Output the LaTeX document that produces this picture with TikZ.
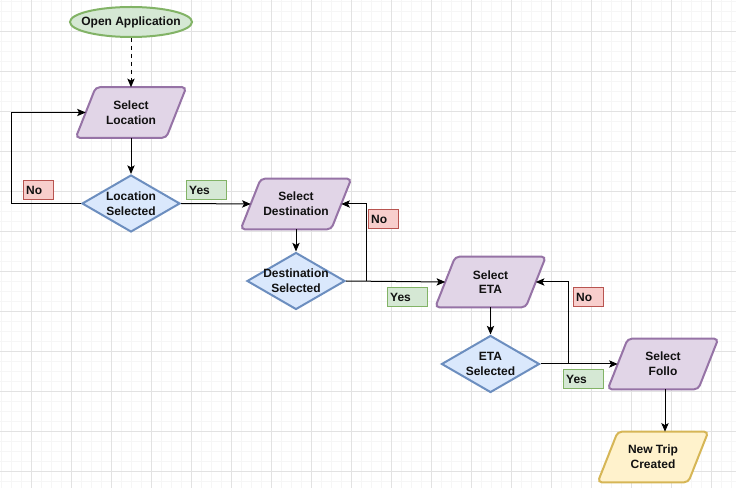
\documentclass[tikz,border=0pt]{standalone}
\usepackage{fontspec}
\setmainfont{Liberation Sans}
\usetikzlibrary{shapes.geometric,arrows.meta}
\definecolor{gmin}{HTML}{F6F6F6}
\definecolor{gmaj}{HTML}{E2E2E2}
\definecolor{grnF}{HTML}{D5E8D4}
\definecolor{grnS}{HTML}{82B366}
\definecolor{purF}{HTML}{E1D5E7}
\definecolor{purS}{HTML}{9673A6}
\definecolor{bluF}{HTML}{DAE8FC}
\definecolor{bluS}{HTML}{6C8EBF}
\definecolor{redF}{HTML}{F8CECC}
\definecolor{redS}{HTML}{B85450}
\definecolor{yelF}{HTML}{FFF2CC}
\definecolor{yelS}{HTML}{D6B656}
\definecolor{txt}{HTML}{111111}
\pgfdeclarelayer{grid}
\pgfdeclarelayer{bg}
\pgfsetlayers{grid,bg,main}
\newcommand{\paraoutline}[3]{%
  \begin{pgfonlayer}{bg}
  \draw[fill=#2,draw=#3,line width=1.5pt,rounded corners=3pt]
    ([xshift=15pt]#1.north west) -- (#1.north east) -- ([xshift=-15pt]#1.south east) -- (#1.south west) -- cycle;
  \end{pgfonlayer}}
\begin{document}
\begin{tikzpicture}[x=0.75pt,y=-0.75pt,
  every node/.style={font=\fontsize{9}{11}\selectfont\bfseries, text=txt},
  para/.style={rectangle, minimum width=82.5pt, minimum height=37.5pt, inner sep=0pt, align=center},
  dia/.style={diamond, fill=bluF, draw=bluS, line width=1.5pt, minimum width=73.5pt, minimum height=42.75pt, inner sep=0pt},
  dtext/.style={align=center, inner sep=0pt},
  term/.style={ellipse, fill=grnF, draw=grnS, line width=1.5pt, minimum width=91.5pt, minimum height=22.5pt, inner sep=0pt},
  nobox/.style={fill=redF, draw=redS, line width=0.75pt, minimum height=14.25pt, inner xsep=2pt, inner ysep=0pt, align=left, anchor=west, text width=18.5pt},
  yesbox/.style={fill=grnF, draw=grnS, line width=0.75pt, minimum height=14.25pt, inner xsep=2pt, inner ysep=0pt, align=left, anchor=west, text width=26pt},
  arr/.style={draw=black, line width=0.75pt, -{Stealth[length=6.5pt,width=5.5pt,inset=1.5pt]}}]
\useasboundingbox (0,0) rectangle (736,488);
\begin{pgfonlayer}{grid}
\fill[white] (0,0) rectangle (736,488);
\foreach \i in {0,...,73} {\draw[gmin,line width=0.5pt] (1.5+10*\i,0) -- (1.5+10*\i,488);}
\foreach \i in {0,...,48} {\draw[gmin,line width=0.5pt] (0,1.7+10*\i) -- (736,1.7+10*\i);}
\foreach \i in {0,...,18} {\draw[gmaj,line width=0.6pt] (31.5+40*\i,0) -- (31.5+40*\i,488);}
\foreach \i in {0,...,11} {\draw[gmaj,line width=0.6pt] (0,31.7+40*\i) -- (736,31.7+40*\i);}
\end{pgfonlayer}

\node[term, label={[dtext]center:Open Application}] (app) at (131,22) {};
\node[para] (loc) at (131,112.5) {Select\\Location};
\paraoutline{loc}{purF}{purS}
\node[dia, label={[dtext]center:Location\\Selected}] (locd) at (131,203.5) {};
\node[para] (dest) at (296,204) {Select\\Destination};
\paraoutline{dest}{purF}{purS}
\node[dia, label={[dtext]center:Destination\\Selected}] (destd) at (296,281) {};
\node[para] (eta) at (490.5,282) {Select\\ETA};
\paraoutline{eta}{purF}{purS}
\node[dia, label={[dtext]center:ETA\\Selected}] (etad) at (490.5,364) {};
\node[para] (follo) at (663,364) {Select\\Follo};
\paraoutline{follo}{purF}{purS}
\node[para] (trip) at (653,457) {New Trip\\Created};
\paraoutline{trip}{yelF}{yelS}

\coordinate (nl) at (11,0);
\coordinate (b1) at (366,0);
\coordinate (b2) at (568,0);

\draw[arr,dashed] (app.south) -- (app.south |- loc.north);
\draw[arr] (loc.south) -- (loc.south |- locd.north);
\draw[arr] (locd.west) -- (locd.west -| nl) |- ([xshift=7.5pt]loc.west);
\draw[arr] (locd.east) -- ([xshift=7.5pt]dest.west);
\draw[arr] (dest.south) -- (dest.south |- destd.north);
\draw[arr] (destd.east) -- ([xshift=7.5pt]eta.west);
\draw[arr] (destd.east -| b1) |- ([xshift=-7.5pt]dest.east);
\draw[arr] (eta.south) -- (eta.south |- etad.north);
\draw[arr] (etad.east) -- ([xshift=7.5pt]follo.west);
\draw[arr] (etad.east -| b2) |- ([xshift=-7.5pt]eta.east);
\draw[arr] ([xshift=1.5pt]follo.south) -- ([xshift=1.5pt]follo.south |- trip.north);

\node[nobox] (no1) at (23,190.5) {No};
\node[yesbox] (yes1) at (186,190.5) {Yes};
\node[nobox] (no2) at (368,219) {No};
\node[yesbox] (yes2) at (387,297) {Yes};
\node[nobox] (no3) at (573,297.5) {No};
\node[yesbox] (yes3) at (563,379) {Yes};
\end{tikzpicture}
\end{document}
